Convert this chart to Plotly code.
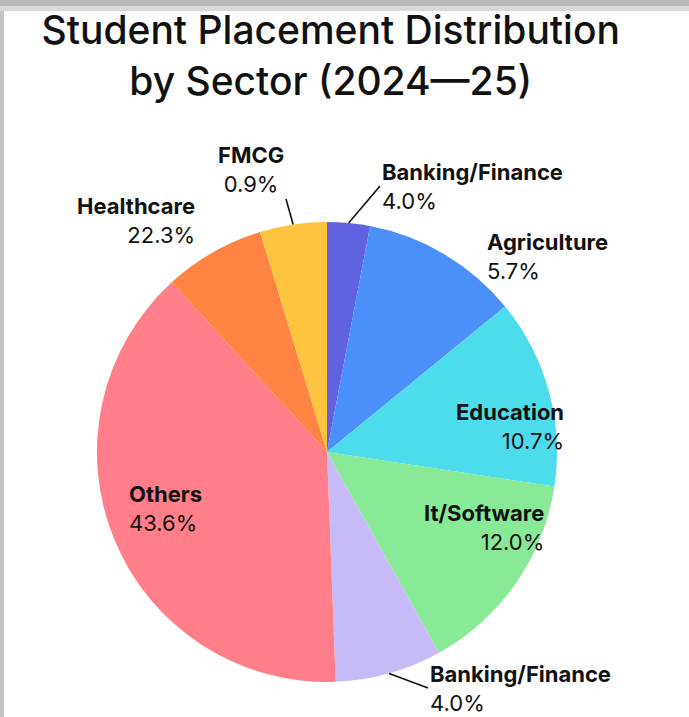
import numpy as np
import plotly.graph_objects as go

# slices clockwise from 12 o'clock
sector_names = ["Banking/Finance", "Agriculture", "Education", "It/Software",
                "Banking/Finance", "Others", "Healthcare", "FMCG"]
slice_ids = ["bank_top", "agri", "edu", "it", "bank_bottom", "others", "health", "fmcg"]
slice_sizes = [3.0, 11.1, 13.3, 14.5, 7.5, 38.8, 7.1, 4.7]
shown_pct = ["4.0%", "5.7%", "10.7%", "12.0%", "4.0%", "43.6%", "22.3%", "0.9%"]

colors = ["#6062E0", "#4B8FF8", "#4DDCEB", "#88E996", "#C6BBF6", "#FF7E8A", "#FF8342", "#FFC43F"]

W, H = 689, 717
cx, cy, r = 327, 452, 230  # pie centre / radius in px

# label placement (px): anchor x, anchor y, xanchor, align, leader line
label_x = [380, 485, 566, 546, 428, 127, 197, 286]
label_y = [186, 256, 426, 527, 688, 508, 221, 199]
label_xanchor = ["left", "left", "right", "right", "left", "left", "right", "right"]
label_yanchor = ["middle", "middle", "middle", "middle", "middle", "middle", "middle", "bottom"]
label_align = ["left", "left", "right", "right", "left", "left", "right", "center"]
has_line = [True, False, False, False, True, False, False, True]

fig = go.Figure(
    go.Pie(
        labels=slice_ids,
        values=slice_sizes,
        textinfo="none",
        sort=False,
        direction="clockwise",
        rotation=0,
        marker=dict(colors=colors, line=dict(width=0)),
        showlegend=False,
        hoverinfo="skip",
        domain=dict(x=[(cx - r) / W, (cx + r) / W], y=[1 - (cy + r) / H, 1 - (cy - r) / H]),
    )
)

# mid-angle of every slice, for leader lines
cum = np.cumsum(slice_sizes)
mid = (cum - np.array(slice_sizes) / 2) / cum[-1] * 2 * np.pi

for i, name in enumerate(sector_names):
    txt = "<b>%s</b><br>%s" % (name, shown_pct[i])
    if has_line[i]:
        px_ = cx + r * np.sin(mid[i])
        py_ = cy - r * np.cos(mid[i])
        fig.add_annotation(
            x=px_ / W, y=1 - py_ / H, xref="paper", yref="paper",
            ax=label_x[i] - px_, ay=label_y[i] - py_,
            text=txt, showarrow=True, arrowhead=0, arrowwidth=1.6, arrowcolor="#111111",
            xanchor=label_xanchor[i], yanchor=label_yanchor[i], align=label_align[i],
            font=dict(family="Inter", size=22, color="#111111"),
        )
    else:
        fig.add_annotation(
            x=label_x[i] / W, y=1 - label_y[i] / H, xref="paper", yref="paper",
            text=txt, showarrow=False,
            xanchor=label_xanchor[i], yanchor=label_yanchor[i], align=label_align[i],
            font=dict(family="Inter", size=22, color="#111111"),
        )

fig.update_layout(
    title=dict(
        text="Student Placement Distribution<br>by Sector (2024—25)",
        x=0.48,
        xanchor="center",
        y=0.938,
        yanchor="top",
        font=dict(family="Inter", size=39, color="#111111", weight=500),
    ),
    width=W,
    height=H,
    margin=dict(l=0, r=0, t=0, b=0),
    paper_bgcolor="white",
    plot_bgcolor="white",
    shapes=[
        dict(type="rect", xref="paper", yref="paper", x0=0, x1=1, y0=1 - 6 / H, y1=1,
             fillcolor="#b8b8b8", line=dict(width=0), layer="above"),
        dict(type="rect", xref="paper", yref="paper", x0=0, x1=1, y0=1 - 11 / H, y1=1 - 6 / H,
             fillcolor="#d8d8d8", line=dict(width=0), layer="above"),
        dict(type="rect", xref="paper", yref="paper", x0=0, x1=4 / W, y0=0, y1=1 - 11 / H,
             fillcolor="#c4c4c4", line=dict(width=0), layer="above"),
    ],
)

# drop the browser's default body margin so the figure sits at the page corner
fig.write_html(
    "out.html",
    config={"displayModeBar": False},
    post_script="document.body.style.margin='0';",
)
